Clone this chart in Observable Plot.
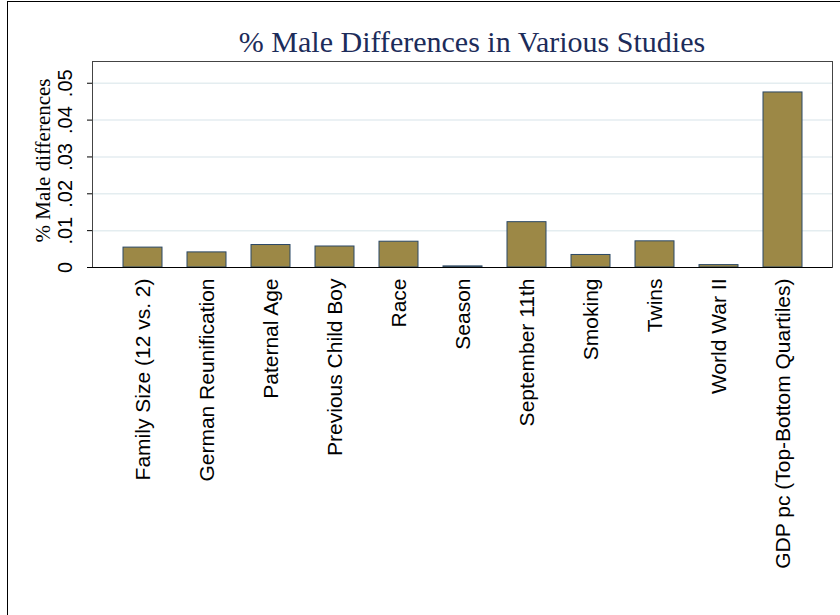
<!DOCTYPE html>
<html>
<head>
<meta charset="utf-8">
<script src="https://cdn.jsdelivr.net/npm/d3@7"></script>
<script src="https://cdn.jsdelivr.net/npm/@observablehq/plot@0.6"></script>
<style>
  html, body { margin: 0; padding: 0; background: #fff; }
  #wrap { position: relative; width: 840px; height: 615px; overflow: hidden; }
  #border { position: absolute; left: 7px; top: 1px; width: 900px; height: 700px;
            border-left: 1.5px solid #000; border-top: 1.5px solid #000; }
  #title { position: absolute; top: 27px; left: 472px; transform: translateX(-50%);
           font-family: "Liberation Serif", "Times New Roman", serif; font-size: 30px;
           line-height: 1; color: #1c2c5a; white-space: nowrap; }
  #chart { position: absolute; left: 0; top: 0; }
</style>
</head>
<body>
<div id="wrap">
  <div id="chart"></div>
  <div id="border"></div>
  <div id="title">% Male Differences in Various Studies</div>
</div>
<script>
const categories = [
  "Family Size (12 vs. 2)", "German Reunification", "Paternal Age",
  "Previous Child Boy", "Race", "Season", "September 11th", "Smoking",
  "Twins", "World War II", "GDP pc (Top-Bottom Quartiles)"
];
const values = [0.0054, 0.0041, 0.0061, 0.0057, 0.0070, 0.0003, 0.0123, 0.0034, 0.0071, 0.00065, 0.0475];
const yTicks = [0, 0.01, 0.02, 0.03, 0.04, 0.05];
const yLabel = "% Male differences";

const data = categories.map((c, i) => ({category: c, value: values[i]}));
const fmt = d => d === 0 ? "0" : String(d).replace(/^0/, "");

const chart = Plot.plot({
  width: 840,
  height: 615,
  marginLeft: 92,
  marginRight: 8,
  marginTop: 61,
  marginBottom: 348,
  style: {background: "transparent", overflow: "visible"},
  x: {type: "band", domain: categories, paddingInner: 0.393, paddingOuter: 0.451, axis: null},
  y: {domain: [0, 0.0559], axis: null},
  marks: [
    Plot.ruleY(yTicks.filter(d => d > 0), {stroke: "#e4edf0", strokeWidth: 1.5}),
    Plot.frame({stroke: "#444", strokeWidth: 1}),
    Plot.barY(data, {x: "category", y: "value", fill: "#9c8846", stroke: "#2b4866", strokeWidth: 1}),
    Plot.ruleY([0], {stroke: "#000", strokeWidth: 1.2}),
    Plot.axisY({ticks: yTicks, tickSize: 5, tickFormat: () => "", label: null, stroke: "#000"}),
    Plot.text(yTicks, {y: d => d, text: fmt, frameAnchor: "left", dx: -27, rotate: -90,
      fontSize: 20, fontFamily: "Liberation Sans, Arial, sans-serif", fill: "#000", textAnchor: "middle", lineAnchor: "middle"}),
    Plot.text([yLabel], {text: d => d, frameAnchor: "left", dx: -49, dy: -4, rotate: -90,
      fontSize: 21, fontFamily: "Liberation Serif, Times New Roman, serif", fill: "#000", textAnchor: "middle", lineAnchor: "middle"}),
    Plot.text(data, {x: "category", text: "category", frameAnchor: "bottom", dy: 11, rotate: -90,
      fontSize: 21, fontFamily: "Liberation Sans, Arial, sans-serif", fill: "#000", textAnchor: "end", lineAnchor: "middle"})
  ]
});
document.getElementById("chart").appendChild(chart);
</script>
</body>
</html>
